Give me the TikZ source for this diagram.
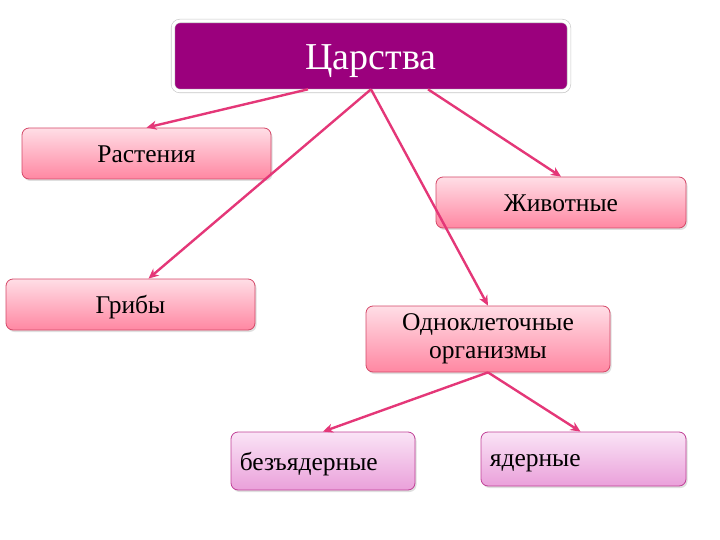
\documentclass[tikz,border=0pt]{standalone}
\usepackage{fontspec}
\setmainfont{Liberation Serif}
\usetikzlibrary{calc,arrows.meta,shadows}

\definecolor{kingfill}{RGB}{155,0,125}
\definecolor{pinktop}{RGB}{255,222,230}
\definecolor{pinkbot}{RGB}{255,135,162}
\definecolor{pinkline}{RGB}{212,72,104}
\definecolor{violtop}{RGB}{250,228,246}
\definecolor{violbot}{RGB}{234,160,218}
\definecolor{violline}{RGB}{192,64,150}
\definecolor{arrcol}{RGB}{228,55,120}

\tikzset{
  kingbox/.style={rounded corners=7pt,fill=kingfill,draw=black!22,line width=0.6pt,
    double=white,double distance=3pt,
    text=white,font=\fontsize{38}{42}\selectfont,text height=33pt,text depth=5pt,
    drop shadow={opacity=0.3,shadow xshift=1pt,shadow yshift=-2pt}},
  pinkbox/.style={rounded corners=7pt,top color=pinktop,bottom color=pinkbot,
    draw=pinkline,line width=0.8pt,font=\fontsize{25.5}{29}\selectfont,
    drop shadow={opacity=0.25,shadow xshift=1.5pt,shadow yshift=-2pt}},
  pinklab/.style={text height=22pt,text depth=3.5pt},
  violbox/.style={rounded corners=7pt,top color=violtop,bottom color=violbot,
    draw=violline,line width=0.8pt,font=\fontsize{25.5}{29}\selectfont,
    drop shadow={opacity=0.25,shadow xshift=1.5pt,shadow yshift=-2pt}},
  arr/.style={draw=arrcol,line width=2.4pt,-{Stealth[length=10pt,width=9pt,inset=3pt]}}
}
\def\drawarr{\draw[arr]}

\begin{document}
\begin{tikzpicture}[x=1pt,y=-1pt,inner sep=0pt]
\useasboundingbox (0,0) rectangle (720,540);

% -------- top box ---------
\node[kingbox,minimum width=396pt,minimum height=70pt] (tsar) at (371,56) {Царства};

% -------- kingdoms ---------
\node[pinkbox,pinklab,minimum width=249pt,minimum height=51pt] (plants) at (146.5,153.5) {Растения};
\node[pinkbox,pinklab,minimum width=249pt,minimum height=51pt] (fungi) at (130.5,304.5) {Грибы};
\node[pinkbox,pinklab,minimum width=250pt,minimum height=51pt] (animals) at (561,202.5) {Животные};
\node[pinkbox,minimum width=244pt,minimum height=66pt,align=center,
  font=\fontsize{25.5}{28}\selectfont] (unicell) at (488,339) {Одноклеточные\\организмы};

% -------- unicellular split ---------
\node[violbox,minimum width=184pt,minimum height=58pt] (prok) at (323,461) {};
\node[anchor=west,font=\fontsize{25.5}{29}\selectfont] (proklab) at ($ (prok.west) + (9,3) $) {безъядерные};
\node[violbox,minimum width=205pt,minimum height=54pt] (euk) at (583.5,459) {};
\node[anchor=west,font=\fontsize{25.5}{29}\selectfont] (euklab) at ($ (euk.west) + (9,4) $) {ядерные};

% where the arrows leave the top box
\coordinate (tl) at ($ (tsar.south) + (-63,-2) $);
\coordinate (tm) at ($ (tsar.south) + (0,-2) $);
\coordinate (tr) at ($ (tsar.south) + (57,-2) $);
\coordinate (ub) at (unicell.south);

\drawarr (tl) -- (plants.north);
\drawarr (tm) -- ($ (fungi.north) + (18,0) $);
\drawarr (tm) -- (unicell.north);
\drawarr (tr) -- (animals.north);
\drawarr (ub) -- (prok.north);
\drawarr (ub) -- ($ (euk.north) + (-3,0) $);
\end{tikzpicture}
\end{document}
